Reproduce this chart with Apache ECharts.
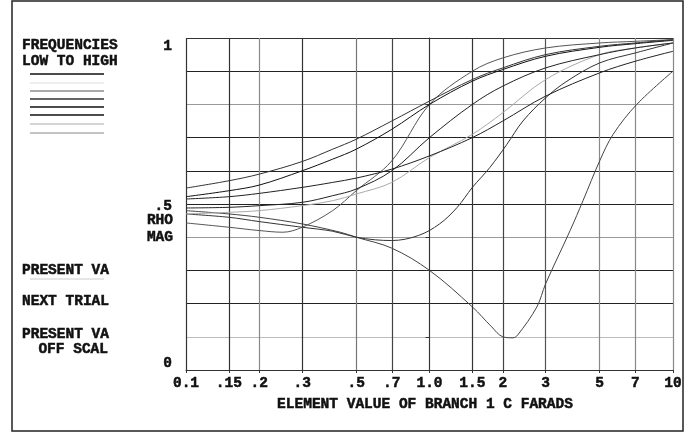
<!DOCTYPE html>
<html>
<head>
<meta charset="utf-8">
<script src="https://cdn.jsdelivr.net/npm/echarts@6/dist/echarts.min.js"></script>
<style>
html,body{margin:0;padding:0;background:#fff;}
#chart{width:694px;height:434px;}
</style>
</head>
<body>
<div id="chart"></div>
<script>
// ---- tick labels ----
const xTickValues = [0.1, 0.15, 0.2, 0.3, 0.5, 0.7, 1, 1.5, 2, 3, 5, 7, 10];
const xTickLabels = ['0.1', '.15', '.2', '.3', '.5', '.7', '1.0', '1.5', '2', '3', '5', '7', '10'];
const yLabelValues = [0, 0.5, 1];
const yTickLabels = ['0', '.5', '1'];

// ---- series data (element value C in farads, RHO magnitude) ----
const commonX = [0.1, 0.15, 0.2, 0.3, 0.4, 0.5, 0.7, 1.0, 1.5, 2, 3, 5, 7, 10];
const curveA_Y = [0.548, 0.57, 0.59, 0.628, 0.665, 0.695, 0.75, 0.81, 0.875, 0.91, 0.95, 0.975, 0.985, 0.995];
const curveB_Y = [0.522, 0.54, 0.557, 0.60, 0.635, 0.665, 0.725, 0.80, 0.87, 0.905, 0.945, 0.972, 0.983, 0.993];
const curveC_Y = [0.515, 0.522, 0.532, 0.55, 0.565, 0.578, 0.605, 0.645, 0.70, 0.75, 0.825, 0.895, 0.93, 0.96];
const curveG_Y = [0.488, 0.49, 0.495, 0.505, 0.525, 0.545, 0.60, 0.70, 0.80, 0.855, 0.91, 0.95, 0.97, 0.985];
const curveH_Y = [0.47, 0.475, 0.48, 0.495, 0.51, 0.53, 0.565, 0.64, 0.71, 0.775, 0.875, 0.95, 0.97, 0.985];

const curveE_X = [0.1, 0.15, 0.2, 0.25, 0.3, 0.4, 0.5, 0.7, 1.0, 1.5, 2, 3, 5, 7, 10];
const curveE_Y = [0.443, 0.43, 0.42, 0.415, 0.43, 0.48, 0.54, 0.63, 0.80, 0.90, 0.94, 0.97, 0.985, 0.99, 0.995];

const curveF_X = [0.1, 0.15, 0.2, 0.3, 0.4, 0.5, 0.6, 0.7, 0.9, 1.1, 1.3, 1.5, 1.77, 2.08, 2.42, 3, 3.67, 5, 7, 10];
const curveF_Y = [0.47, 0.46, 0.447, 0.43, 0.418, 0.40, 0.392, 0.39, 0.405, 0.44, 0.49, 0.55, 0.61, 0.68, 0.75, 0.82, 0.87, 0.925, 0.955, 0.985];

const curveD_X = [0.1, 0.15, 0.2, 0.3, 0.43, 0.5, 0.7, 1.0, 1.5, 1.8, 2, 2.2, 2.3, 2.76, 3, 3.78, 4.27, 5, 5.68, 7.1, 10];
const curveD_Y = [0.48, 0.47, 0.46, 0.44, 0.415, 0.40, 0.367, 0.30, 0.19, 0.13, 0.10, 0.097, 0.105, 0.19, 0.26, 0.42, 0.51, 0.63, 0.71, 0.80, 0.90];

const seriesNames = ['F1', 'F2', 'F3', 'F4', 'F5', 'F6', 'F7', 'F8'];

// legend line colours (low to high)
const legendColors = ['#111', '#ddd', '#555', '#333', '#111', '#111', '#aaa', '#888'];

function pairs(xs, ys) {
  return xs.map((x, i) => [Math.log10(x), ys[i]]);
}

const curves = [
  { x: curveD_X, y: curveD_Y, color: '#444' },
  { x: curveF_X, y: curveF_Y, color: '#333' },
  { x: curveE_X, y: curveE_Y, color: '#555' },
  { x: commonX, y: curveH_Y, color: '#aaa' },
  { x: commonX, y: curveG_Y, color: '#222' },
  { x: commonX, y: curveC_Y, color: '#222' },
  { x: commonX, y: curveB_Y, color: '#111' },
  { x: commonX, y: curveA_Y, color: '#333' }
];

const FONT = '"Liberation Mono", "DejaVu Sans Mono", monospace';
const TXT = '#111';
const chart = echarts.init(document.getElementById('chart'), null, { renderer: 'canvas' });

function xLabelFor(v) {
  let best = 0, bd = 1e9;
  xTickValues.forEach((t, i) => {
    const d = Math.abs(Math.log10(t) - v);
    if (d < bd) { bd = d; best = i; }
  });
  return xTickLabels[best];
}
function yLabelFor(v) {
  let best = 0, bd = 1e9;
  yLabelValues.forEach((t, i) => {
    const d = Math.abs(t - v);
    if (d < bd) { bd = d; best = i; }
  });
  const key = ['b', 'm', 't'][best];
  return '{' + key + '|' + yTickLabels[best] + '}';
}

const textStyleBase = { fontFamily: FONT, fontWeight: 'bold', fontSize: 14.5, color: TXT, textBorderColor: TXT, textBorderWidth: 0.5 };

function label(text, x, y, align) {
  return { type: 'text', style: { text: text, x: x, y: y, font: 'bold 14.5px ' + FONT, fill: TXT,
    stroke: TXT, lineWidth: 0.5, align: align || 'left', verticalAlign: 'middle' } };
}

const graphics = [
  { type: 'rect', shape: { x: 12, y: 1, width: 671, height: 430 }, style: { fill: 'none', stroke: '#222', lineWidth: 1.5 }, silent: true },
  label('FREQUENCIES', 22, 45),
  label('LOW TO HIGH', 22, 61),
  label('PRESENT VA', 22, 270),
  { type: 'line', shape: { x1: 30, y1: 279, x2: 104, y2: 279 }, style: { stroke: '#ccc', lineWidth: 1 } },
  label('NEXT TRIAL', 22, 301),
  label('PRESENT VA', 22, 334),
  label('OFF SCAL', 108, 349, 'right'),
  label('RHO', 173, 220, 'right'),
  label('MAG', 173, 237, 'right')
];
const legendYs = [74, 83, 91, 99, 107, 115, 124, 133];
legendColors.forEach((c, i) => {
  graphics.push({ type: 'line', shape: { x1: 30, y1: legendYs[i], x2: 104, y2: legendYs[i] },
    style: { stroke: c, lineWidth: (c === '#111' || c === '#333') ? 1.5 : 1 } });
});

const option = {
  animation: false,
  backgroundColor: '#fff',
  grid: { left: 186, right: 21, top: 38, bottom: 64, containLabel: false },
  xAxis: {
    type: 'value',
    min: -1, max: 1,
    name: 'ELEMENT VALUE OF BRANCH 1 C FARADS',
    nameLocation: 'middle',
    nameGap: 15,
    nameTextStyle: Object.assign({ padding: [0, 9, 0, 0] }, textStyleBase),
    axisLine: { show: true, lineStyle: { color: '#333', width: 1 } },
    axisTick: { show: true, length: 3, customValues: xTickValues.map(v => Math.log10(v)), lineStyle: { color: '#333' } },
    axisLabel: Object.assign({ customValues: xTickValues.map(v => Math.log10(v)), formatter: xLabelFor, margin: 6 }, textStyleBase),
    splitLine: { show: true, showMinLine: true, showMaxLine: true,
      lineStyle: { width: 1.2, color: ['#333', '#333', '#888', '#333', '#777', '#444', '#666', '#333', '#444', '#555', '#888', '#888', '#888'] } }
  },
  yAxis: {
    type: 'value',
    min: 0, max: 1, interval: 0.1,
    axisLine: { show: true, lineStyle: { color: '#333' } },
    axisTick: { show: true, length: 4, lineStyle: { color: '#333' } },
    axisLabel: Object.assign({
      customValues: yLabelValues,
      formatter: yLabelFor,
      margin: 14,
      rich: {
        t: Object.assign({ padding: [16, 0, 0, 0] }, textStyleBase),
        m: Object.assign({ padding: [4, 0, 0, 0] }, textStyleBase),
        b: Object.assign({ padding: [0, 0, 14, 0] }, textStyleBase)
      }
    }, textStyleBase),
    splitLine: { show: true,
      lineStyle: { width: 1.2, color: ['#333', '#bbb', '#222', '#222', '#999', '#222', '#222', '#222', '#999', '#222', '#333'] } }
  },
  graphic: graphics,
  series: curves.map((c, i) => ({
    name: seriesNames[i],
    type: 'line',
    data: pairs(c.x, c.y),
    showSymbol: false,
    smooth: 0.35,
    lineStyle: { color: c.color, width: 1 },
    itemStyle: { color: c.color },
    z: 3
  }))
};
chart.setOption(option);
</script>
</body>
</html>
